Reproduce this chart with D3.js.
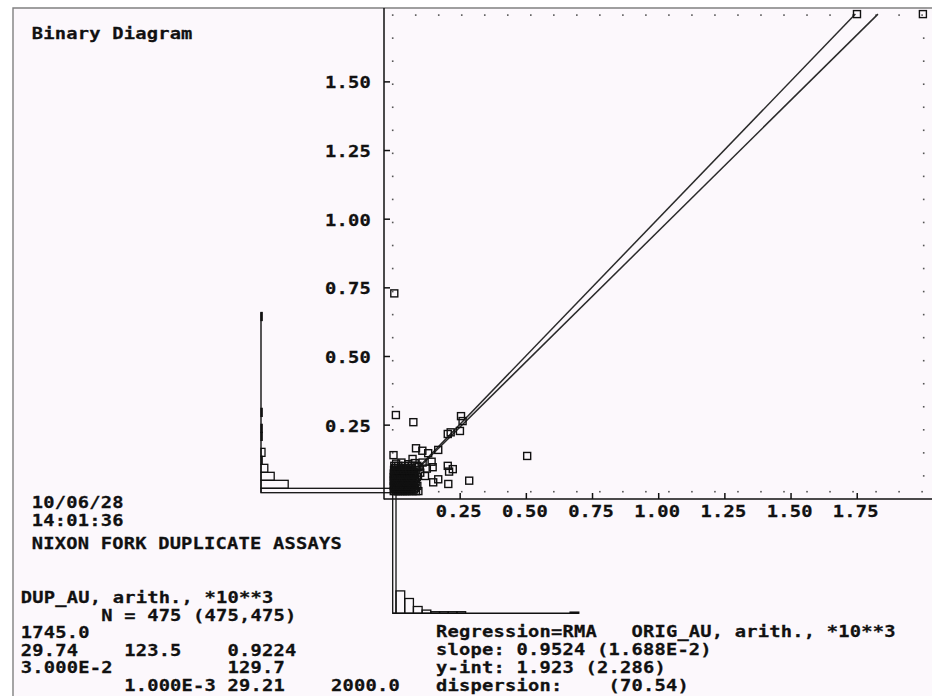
<!DOCTYPE html>
<html>
<head>
<meta charset="utf-8">
<script src="https://cdn.jsdelivr.net/npm/d3@7"></script>
<style>
  html, body { margin: 0; padding: 0; background: #ffffff; }
  svg { display: block; }
  svg text {
    font-family: "DejaVu Sans Mono", "Liberation Mono", monospace;
    font-weight: bold;
    font-size: 15px;
    letter-spacing: 0.17px;
    fill: #111;
    stroke: #111;
    stroke-width: 0.25px;
    white-space: pre;
  }
</style>
</head>
<body>
<svg id="chart" width="932" height="696"></svg>
<script>
// ---- Data (assay values in units of 10**3) ----
const xTicks = [0.25, 0.50, 0.75, 1.00, 1.25, 1.50, 1.75];
const yTicks = [0.25, 0.50, 0.75, 1.00, 1.25, 1.50];

// [ORIG_AU, DUP_AU] pairs
const assays = [
  [1.751, 1.745], [2.000, 1.745], [0.003, 0.728],
  [0.009, 0.285], [0.075, 0.259], [0.255, 0.281], [0.261, 0.263],
  [0.251, 0.227], [0.216, 0.222], [0.205, 0.216], [0.169, 0.158],
  [0.505, 0.136], [0.000, 0.139], [0.085, 0.164], [0.109, 0.155],
  [0.131, 0.146], [0.144, 0.115], [0.148, 0.095], [0.205, 0.100],
  [0.224, 0.088], [0.210, 0.079], [0.119, 0.063], [0.169, 0.051],
  [0.150, 0.040], [0.207, 0.034], [0.286, 0.046], [0.094, 0.008],
  [0.072, 0.125], [0.110, 0.112], [0.126, 0.090], [0.101, 0.075],
  [0.010, 0.108], [0.030, 0.112], [0.056, 0.106], [0.080, 0.110], [0.095, 0.095],
  [0.001, 0.008], [0.009, 0.008], [0.017, 0.008], [0.026, 0.008], [0.034, 0.008], [0.043, 0.008], [0.052, 0.008], [0.061, 0.008], [0.072, 0.008], [0.085, 0.008],
  [0.004, 0.014], [0.012, 0.014], [0.021, 0.014], [0.029, 0.014], [0.038, 0.014], [0.047, 0.014], [0.057, 0.014], [0.066, 0.014], [0.078, 0.014],
  [0.002, 0.020], [0.007, 0.020], [0.015, 0.020], [0.024, 0.020], [0.032, 0.020], [0.041, 0.020], [0.050, 0.020], [0.059, 0.020], [0.069, 0.020], [0.081, 0.020],
  [0.001, 0.027], [0.010, 0.027], [0.019, 0.027], [0.027, 0.027], [0.036, 0.027], [0.045, 0.027], [0.054, 0.027], [0.064, 0.027], [0.075, 0.027], [0.090, 0.027],
  [0.005, 0.033], [0.013, 0.033], [0.022, 0.033], [0.030, 0.033], [0.039, 0.033], [0.048, 0.033], [0.058, 0.033], [0.068, 0.033], [0.079, 0.033],
  [0.002, 0.040], [0.008, 0.040], [0.016, 0.040], [0.025, 0.040], [0.033, 0.040], [0.042, 0.040], [0.051, 0.040], [0.061, 0.040], [0.071, 0.040], [0.084, 0.040],
  [0.001, 0.046], [0.011, 0.046], [0.020, 0.046], [0.028, 0.046], [0.037, 0.046], [0.046, 0.046], [0.055, 0.046], [0.065, 0.046], [0.076, 0.046],
  [0.004, 0.053], [0.014, 0.053], [0.023, 0.053], [0.031, 0.053], [0.040, 0.053], [0.049, 0.053], [0.059, 0.053], [0.069, 0.053], [0.082, 0.053],
  [0.001, 0.059], [0.007, 0.059], [0.017, 0.059], [0.026, 0.059], [0.035, 0.059], [0.044, 0.059], [0.053, 0.059], [0.062, 0.059], [0.073, 0.059], [0.088, 0.059],
  [0.003, 0.066], [0.012, 0.066], [0.021, 0.066], [0.029, 0.066], [0.038, 0.066], [0.048, 0.066], [0.057, 0.066], [0.067, 0.066], [0.078, 0.066],
  [0.001, 0.072], [0.009, 0.072], [0.018, 0.072], [0.027, 0.072], [0.036, 0.072], [0.045, 0.072], [0.055, 0.072], [0.065, 0.072], [0.080, 0.072],
  [0.005, 0.079], [0.015, 0.079], [0.024, 0.079], [0.033, 0.079], [0.042, 0.079], [0.052, 0.079], [0.062, 0.079], [0.074, 0.079],
  [0.002, 0.085], [0.011, 0.085], [0.021, 0.085], [0.030, 0.085], [0.040, 0.085], [0.050, 0.085], [0.061, 0.085], [0.071, 0.085], [0.086, 0.085],
  [0.006, 0.092], [0.017, 0.092], [0.027, 0.092], [0.037, 0.092], [0.048, 0.092], [0.058, 0.092], [0.069, 0.092],
  [0.003, 0.100], [0.018, 0.100], [0.043, 0.100], [0.069, 0.100], [0.090, 0.100]
];

// RMA regression of DUP_AU on ORIG_AU
const rmaSlope = 0.9524;
const rmaIntercept = 1.923e-3;
const dupMax = 1.745;
const origMax = 2.000;

// Marginal histograms: first bin is the partial bin at the low end
const dupHistFirst = 0.0425, dupHistWidth = 0.0773;
const dupHistCounts = [332, 68, 33, 17, 3, 10, 0, 3, 3, 0, 3, 0, 0, 0, 0, 0, 0, 0, 0, 0, 0, 0, 3];
const origHistFirst = 0.0355, origHistWidth = 0.0936;
const origHistCounts = [338, 56, 37, 17, 8, 4, 4, 4, 4, 0, 0, 0, 0, 0, 0, 0, 0, 0, 0, 0, 0, 3];

// Text blocks
const title = "Binary Diagram";
const headerLines = ["10/06/28", "14:01:36", "NIXON FORK DUPLICATE ASSAYS"];
const statsLines = [
  "DUP_AU, arith., *10**3",
  "       N = 475 (475,475)",
  "1745.0",
  "29.74    123.5    0.9224",
  "3.000E-2          129.7",
  "         1.000E-3 29.21    2000.0"
];
const regressionLines = [
  "Regression=RMA   ORIG_AU, arith., *10**3",
  "slope: 0.9524 (1.688E-2)",
  "y-int: 1.923 (2.286)",
  "dispersion:    (70.54)"
];

// ---- Drawing ----
const svg = d3.select("#chart");
const ink = "#111";
const glyphWiden = 1.25;   // wide terminal-style lettering

function label(parent, x0, y0, str) {
  return parent.append("text")
    .attr("transform", `translate(${x0},${y0}) scale(${glyphWiden},1)`)
    .text(str);
}

// Page frame
svg.append("rect").attr("x", 13).attr("y", 8).attr("width", 932 - 13).attr("height", 696 - 8)
  .attr("fill", "#fcf8fc");
svg.append("path").attr("d", "M13,696V8H932").attr("fill", "none")
  .attr("stroke", "#808080").attr("stroke-width", 1.4);

const x = d3.scaleLinear().domain([0, origMax]).range([393.5, 922.9]);
const y = d3.scaleLinear().domain([0, dupMax]).range([493.3, 14.1]);

const axisX0 = 384, axisY0 = 499;

// Dotted frame around the data extent
const dotG = svg.append("g").attr("fill", "#555");
const dotStep = (x(origMax) - x(0)) / 23;
const dotTop = y(dupMax) + 1, dotBottom = 491.7;
const dotLeft = x(0) - 0.8, dotRight = x(origMax) + 0.8;
const dotsXY = [];
d3.range(0, 24).forEach(i => {
  dotsXY.push([dotLeft + i * dotStep, dotTop]);
  dotsXY.push([dotLeft + i * dotStep, dotBottom]);
});
d3.range(1, 21).forEach(i => {
  dotsXY.push([dotLeft, dotTop + i * 23.04]);
  dotsXY.push([dotRight, dotTop + i * 23.04]);
});
dotG.selectAll("rect").data(dotsXY).join("rect")
  .attr("x", d => d[0] - 0.8).attr("y", d => d[1] - 0.8)
  .attr("width", 1.6).attr("height", 1.6);

// Axis lines
svg.append("line").attr("x1", axisX0).attr("x2", axisX0).attr("y1", 8).attr("y2", axisY0 + 0.5)
  .attr("stroke", ink).attr("stroke-width", 1.5);
svg.append("line").attr("x1", axisX0).attr("x2", 932).attr("y1", axisY0).attr("y2", axisY0)
  .attr("stroke", ink).attr("stroke-width", 1.5);

const fmt = d3.format(".2f");

// Y axis (ticks point inward)
const yAxis = svg.append("g").attr("transform", `translate(${axisX0},0)`)
  .call(d3.axisLeft(y).tickValues(yTicks).tickSize(-6).tickFormat(fmt));
yAxis.select(".domain").remove();
yAxis.selectAll(".tick line").attr("stroke", ink).attr("stroke-width", 1.5);
yAxis.selectAll(".tick text")
  .attr("x", null).attr("dy", null).attr("text-anchor", "start")
  .attr("transform", `translate(-59,6.6) scale(${glyphWiden},1)`);

// X axis (ticks point inward)
const xAxis = svg.append("g").attr("transform", `translate(0,${axisY0})`)
  .call(d3.axisBottom(x).tickValues(xTicks).tickSize(-6).tickFormat(fmt));
xAxis.select(".domain").remove();
xAxis.selectAll(".tick line").attr("stroke", ink).attr("stroke-width", 1.5);
xAxis.selectAll(".tick text")
  .attr("y", null).attr("dy", null).attr("text-anchor", "start")
  .attr("transform", `translate(-24.4,18.3) scale(${glyphWiden},1)`);

// 1:1 line and RMA regression line
const lineGen = d3.line().x(d => x(d[0])).y(d => y(d[1]));
const oneToOne = [[0, 0], [dupMax, dupMax]];
const rmaEndX = (dupMax - rmaIntercept) / rmaSlope;
const rmaLine = [[0, rmaIntercept], [rmaEndX, rmaIntercept + rmaSlope * rmaEndX]];
[oneToOne, rmaLine].forEach(pts => {
  svg.append("path").attr("d", lineGen(pts)).attr("fill", "none")
    .attr("stroke", "#2a2a2a").attr("stroke-width", 1.5);
});

// Left histogram of DUP_AU (bars grow to the right)
const hy = d3.scaleLinear().domain([0, dupMax]).range([492.7, 312.3]);
const countLen = d3.scaleLinear().domain([0, 100]).range([0, 40]);
const dupHistBase = 261;
const dupBins = dupHistCounts.map((c, i) => {
  const lo = i === 0 ? 0 : dupHistFirst + (i - 1) * dupHistWidth;
  const hi = dupHistFirst + i * dupHistWidth;
  return { lo, hi, c };
});
svg.append("line").attr("x1", dupHistBase).attr("x2", dupHistBase)
  .attr("y1", hy(0)).attr("y2", hy(dupMax)).attr("stroke", ink).attr("stroke-width", 1.4);
svg.append("g").selectAll("rect").data(dupBins.filter(b => b.c > 0)).join("rect")
  .attr("x", dupHistBase).attr("y", b => hy(b.hi))
  .attr("width", b => countLen(b.c)).attr("height", b => hy(b.lo) - hy(b.hi))
  .attr("fill", "none").attr("stroke", ink).attr("stroke-width", 1.3);

// Bottom histogram of ORIG_AU (bars grow upward)
const hx = d3.scaleLinear().domain([0, origMax]).range([392.7, 578.7]);
const origHistBase = 613.3;
const origBins = origHistCounts.map((c, i) => {
  const lo = i === 0 ? 0 : origHistFirst + (i - 1) * origHistWidth;
  const hi = origHistFirst + i * origHistWidth;
  return { lo, hi, c };
});
svg.append("line").attr("x1", hx(0)).attr("x2", hx(origMax))
  .attr("y1", origHistBase).attr("y2", origHistBase).attr("stroke", ink).attr("stroke-width", 1.4);
svg.append("g").selectAll("rect").data(origBins.filter(b => b.c > 0)).join("rect")
  .attr("x", b => hx(b.lo)).attr("y", b => origHistBase - countLen(b.c))
  .attr("width", b => hx(b.hi) - hx(b.lo)).attr("height", b => countLen(b.c))
  .attr("fill", "none").attr("stroke", ink).attr("stroke-width", 1.3);

// Scatter of duplicate pairs as open squares
const sq = 7;
svg.append("g").selectAll("rect").data(assays).join("rect")
  .attr("x", d => x(d[0]) - sq / 2).attr("y", d => y(d[1]) - sq / 2)
  .attr("width", sq).attr("height", sq)
  .attr("fill", "none").attr("stroke", ink).attr("stroke-width", 1.4);

// Text
label(svg, 31.7, 39.3, title);
const headerY = [508.3, 526, 549.3];
headerLines.forEach((s, i) => label(svg, 31.7, headerY[i], s));
statsLines.forEach((s, i) => label(svg, 20.7, 603.3 + i * 17.5, s));
regressionLines.forEach((s, i) => label(svg, 436, 637.4 + i * 17.9, s));
</script>
</body>
</html>
